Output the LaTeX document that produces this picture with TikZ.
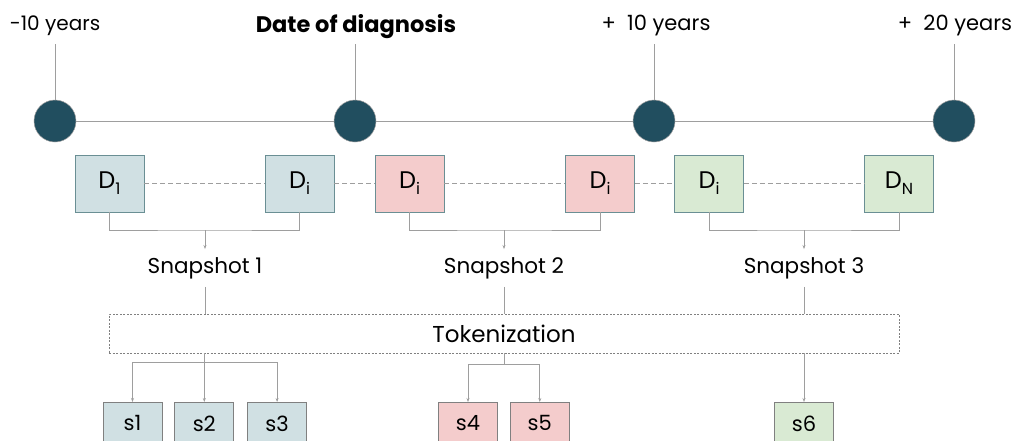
\documentclass[tikz,border=0pt]{standalone}
\usepackage{fontspec}
\setmainfont{Poppins}
\usetikzlibrary{positioning,arrows.meta}
\definecolor{dotcol}{HTML}{214E5F}
\definecolor{linecol}{HTML}{9E9E9E}
\definecolor{edgecol}{HTML}{6A8F94}
\definecolor{snapblue}{HTML}{D0E0E3}
\definecolor{snappink}{HTML}{F4CCCC}
\definecolor{snapgreen}{HTML}{D9EAD3}
\newcommand{\docsub}[1]{\raisebox{-6pt}{\fontsize{16}{16}\selectfont #1}}
\tikzstyle{every node}=[font=\fontsize{21}{24}\selectfont]
\tikzstyle{dot}=[circle,fill=dotcol,draw=linecol,line width=0.5pt,minimum size=42pt,inner sep=0pt]
\tikzstyle{yearlab}=[anchor=south,inner ysep=8pt]
\tikzstyle{docbox}=[draw=edgecol,line width=0.8pt,minimum width=69pt,minimum height=57pt,inner sep=0pt,font=\fontsize{24}{24}\selectfont]
\tikzstyle{tokbox}=[draw=gray,line width=0.8pt,minimum width=59pt,minimum height=42pt,inner sep=0pt,anchor=north]
\tikzstyle{link}=[draw=linecol,line width=0.8pt]
\tikzstyle{gap}=[draw=linecol,line width=0.8pt,dash pattern=on 5pt off 3pt]
\tikzstyle{snap}=[inner ysep=8pt,font=\fontsize{21.5}{24}\selectfont]

\begin{document}
\begin{tikzpicture}[x=1pt,y=-1pt,>={Stealth[length=4pt,width=3pt]}]
    \useasboundingbox (0,0) rectangle (1016,440);

    % time line
    \node[dot] (c1) at (55,121) {};
    \node[dot] (c2) at (355,121) {};
    \node[dot] (c3) at (654,121) {};
    \node[dot] (c4) at (954,121) {};
    \draw[link] (c1) -- (c2) -- (c3) -- (c4);

    \node[yearlab,font=\fontsize{20}{24}\selectfont] (y1) at (55,44) {-10 years};
    \node[yearlab,inner ysep=5pt,font=\fontsize{22.5}{24}\selectfont] (y2) at (356,44) {\textbf{Date of diagnosis}};
    \node[yearlab] (y3) at (656,44) {+\ \ 10 years};
    \node[yearlab] (y4) at (955,44) {+\ \ 20 years};
    \draw[link] (c1) -- (c1 |- y1.south)
        (c2) -- (c2 |- y2.south)
        (c3) -- (c3 |- y3.south)
        (c4) -- (c4 |- y4.south);

    % documents
    \node[docbox,fill=snapblue] (d1) at (109.5,183.5) {D\docsub{1}};
    \node[docbox,fill=snapblue] (d2) at (299.5,183.5) {D\docsub{i}};
    \node[docbox,fill=snappink] (d3) at (409.5,183.5) {D\docsub{i}};
    \node[docbox,fill=snappink] (d4) at (600,183.5) {D\docsub{i}};
    \node[docbox,fill=snapgreen] (d5) at (709,183.5) {D\docsub{i}};
    \node[docbox,fill=snapgreen] (d6) at (899,183.5) {D\docsub{N}};
    \draw[gap] (d1) -- (d2) -- (d3) -- (d4) -- (d5) -- (d6);

    % snapshots
    \node[snap] (snap1) at (205,268) {Snapshot 1};
    \node[snap] (snap2) at (504,268) {Snapshot 2};
    \node[snap] (snap3) at (804,268) {Snapshot 3};
    \coordinate (b1) at (205,230);
    \coordinate (b2) at (504,230);
    \coordinate (b3) at (804,230);
    \draw[link] (d1) |- (b1) -| (d2)
        (d3) |- (b2) -| (d4)
        (d5) |- (b3) -| (d6);
    \draw[link,->] (b1) -- (snap1);
    \draw[link,->] (b2) -- (snap2);
    \draw[link,->] (b3) -- (snap3);

    % tokenization
    \node[draw=gray,dash pattern=on 2pt off 1.5pt,line width=0.6pt,font=\fontsize{23}{24}\selectfont,
        minimum width=790pt,minimum height=39pt,inner sep=0pt] (tok) at (504,333.5) {Tokenization};
    \draw[link] (snap1) -- (snap1 |- tok.north)
        (snap2) -- (snap2 |- tok.north)
        (snap3) -- (snap3 |- tok.north);

    % tokens
    \node[tokbox,fill=snapblue] (s1) at (132.5,402) {s1};
    \node[tokbox,fill=snapblue,right=12pt of s1.north east,anchor=north west] (s2) {s2};
    \node[tokbox,fill=snapblue,right=13pt of s2.north east,anchor=north west] (s3) {s3};
    \node[tokbox,fill=snappink] (s4) at (468,402) {s4};
    \node[tokbox,fill=snappink,right=12pt of s4.north east,anchor=north west] (s5) {s5};
    \node[tokbox,fill=snapgreen] (s6) at (804,402) {s6};
    \coordinate (t1) at (s2 |- 0,362);
    \coordinate (t2) at (504,364);
    \draw[link,->] (tok.south -| s2) -- (s2);
    \draw[link,->] (t1) -| (s1);
    \draw[link,->] (t1) -| (s3);
    \draw[link] (tok.south -| t2) -- (t2);
    \draw[link,->] (t2) -| (s4);
    \draw[link,->] (t2) -| (s5);
    \draw[link,->] (tok.south -| s6) -- (s6);
\end{tikzpicture}
\end{document}
